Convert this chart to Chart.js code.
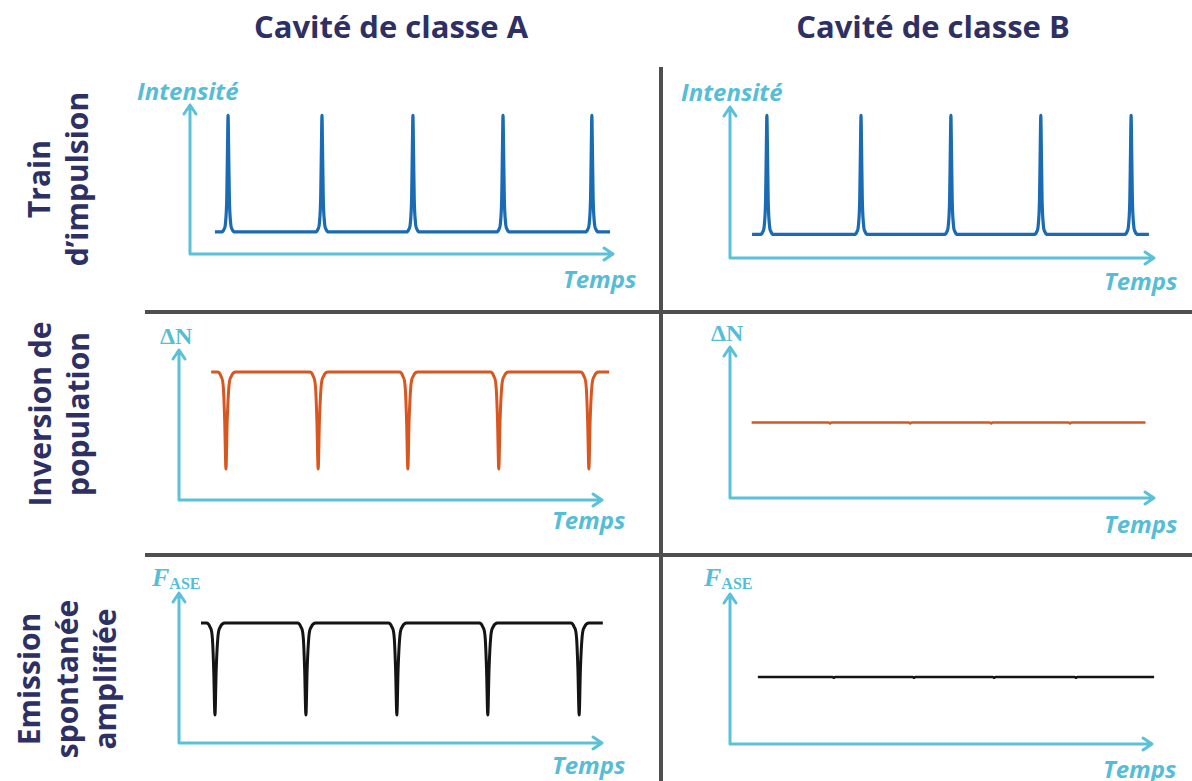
<!DOCTYPE html>
<html>
<head>
<meta charset="utf-8">
<script src="https://cdn.jsdelivr.net/npm/chart.js@4.4.1/dist/chart.umd.min.js"></script>
<style>
  html, body { margin: 0; padding: 0; background: #fff; }
  body { position: relative; width: 1192px; height: 781px; overflow: hidden; }
  canvas { position: absolute; }
  .title { position: absolute; top: 6px; width: 440px; text-align: center; color: #2e3064;
           font: 700 31px 'Open Sans', sans-serif; line-height: 40px; white-space: nowrap; }
  .row { position: absolute; color: #2e3064; font: 700 30px 'Open Sans', sans-serif; line-height: 38px;
         text-align: center; white-space: nowrap; transform: translate(-50%, -50%) rotate(-90deg); }
  .lbl { position: absolute; color: #56bdd6; font: italic 700 24px 'Open Sans', sans-serif;
         line-height: 24px; white-space: nowrap; }
  .sym { font-family: 'Liberation Serif', serif; font-style: normal; font-size: 24px; }
  .sym i { font-size: 26px; }
  .sym sub { font-size: 16px; font-style: normal; vertical-align: -3px; }
  .rule { position: absolute; background: #4f4f4f; }
</style>
</head>
<body>
<div class="title" style="left:171px">Cavité de classe A</div>
<div class="title" style="left:713px">Cavité de classe B</div>

<div class="row" style="left:58px; top:179px">Train<br>d’impulsion</div>
<div class="row" style="left:59px; top:414px">Inversion de<br>population</div>
<div class="row" style="left:67px; top:679px">Emission<br>spontanée<br>amplifiée</div>

<div class="rule" style="left:659px; top:67px; width:4px; height:714px"></div>
<div class="rule" style="left:145px; top:310px; width:1047px; height:4px"></div>
<div class="rule" style="left:145px; top:553px; width:1047px; height:4px"></div>

<div class="lbl" style="left:137px; top:79px">Intensité</div>
<div class="lbl" style="left:563px; top:267px">Temps</div>
<div class="lbl" style="left:681px; top:80px">Intensité</div>
<div class="lbl" style="left:1104px; top:269px">Temps</div>

<div class="lbl sym" style="left:160px; top:324px">ΔN</div>
<div class="lbl" style="left:552px; top:508px">Temps</div>
<div class="lbl sym" style="left:711px; top:321px">ΔN</div>
<div class="lbl" style="left:1104px; top:512px">Temps</div>

<div class="lbl sym" style="left:152px; top:566px"><i>F</i><sub>ASE</sub></div>
<div class="lbl" style="left:552px; top:753px">Temps</div>
<div class="lbl sym" style="left:704px; top:566px"><i>F</i><sub>ASE</sub></div>
<div class="lbl" style="left:1103px; top:757px">Temps</div>

<canvas id="a1"></canvas>
<canvas id="b1"></canvas>
<canvas id="a2"></canvas>
<canvas id="b2"></canvas>
<canvas id="a3"></canvas>
<canvas id="b3"></canvas>

<script>
// shape of one pulse / one dip (time offset, fraction of height)
const pulseOffsets = [-1.6, -1.0, -0.6, -0.3, -0.12, 0, 0.12, 0.3, 0.6, 1.0, 1.6];
const pulseShape   = [0, 0.02, 0.08, 0.3, 0.75, 1, 0.75, 0.3, 0.08, 0.02, 0];
const dipOffsets   = [-2.0, -1.2, -0.6, -0.3, 0, 0.3, 0.7, 1.3, 2.3];
const dipShape     = [0, 0.04, 0.17, 0.5, 1, 0.5, 0.15, 0.04, 0];
const notchOffsets = [-0.3, 0, 0.3];
const notchShape   = [0, 1, 0];

// class A cavity
const pulseTimesA = [9.0, 31.2, 52.7, 74.0, 95.0];
const dipTimesA2  = [11.1, 32.9, 54.1, 75.6, 96.9];
const dipTimesA3  = [8.5, 30.0, 51.5, 73.0, 94.6];
// class B cavity
const pulseTimesB = [8.7, 30.9, 52.1, 73.3, 94.6];
const notchTimesB2 = [23.6, 42.5, 61.6, 80.2];
const notchTimesB3 = [24.6, 43.6, 62.6, 82.0];

// levels: [start time, end time, baseline, extreme]
const levelA1 = [5.9, 99.3, 14.8, 93];
const levelB1 = [5.2, 98.8, 15.6, 94.4];
const levelA2 = [7.6, 101.7, 85.3, 20.7];
const levelB2 = [5.1, 98.0, 50, 49.3];
const levelA3 = [5.2, 100.2, 80, 18.7];
const levelB3 = [6.6, 100.5, 44.7, 44.1];

function trace(level, times, offsets, shape) {
  const [t0, t1, base, ext] = level;
  const pts = [{ x: t0, y: base }];
  times.forEach(c => offsets.forEach((o, i) => pts.push({ x: c + o, y: base + (ext - base) * shape[i] })));
  pts.push({ x: t1, y: base });
  return pts;
}

const axisColor = '#5bc1d8';
const arrowAxes = {
  id: 'arrowAxes',
  beforeDatasetsDraw(chart) {
    const { ctx, scales } = chart;
    const x0 = scales.x.getPixelForValue(0), x1 = scales.x.getPixelForValue(100);
    const y0 = scales.y.getPixelForValue(0), y1 = scales.y.getPixelForValue(100);
    ctx.save();
    ctx.strokeStyle = axisColor;
    ctx.lineWidth = 3;
    ctx.lineCap = 'round';
    ctx.lineJoin = 'round';
    ctx.beginPath();
    ctx.moveTo(x0, y1); ctx.lineTo(x0, y0); ctx.lineTo(x1, y0);
    ctx.moveTo(x0 - 6, y1 + 9); ctx.lineTo(x0, y1); ctx.lineTo(x0 + 6, y1 + 9);
    ctx.moveTo(x1 - 9, y0 - 6); ctx.lineTo(x1, y0); ctx.lineTo(x1 - 9, y0 + 6);
    ctx.stroke();
    ctx.restore();
  }
};

// panel box: [axis x, arrow top y, arrow right x, axis y]
function panel(id, box, data, color, width) {
  const pad = { left: 12, top: 12, right: 14, bottom: 12 };
  const cv = document.getElementById(id);
  const [ax, ty, rx, ay] = box;
  cv.width = rx - ax + pad.left + pad.right;
  cv.height = ay - ty + pad.top + pad.bottom;
  cv.style.left = (ax - pad.left) + 'px';
  cv.style.top = (ty - pad.top) + 'px';
  new Chart(cv, {
    type: 'line',
    data: {
      datasets: [{
        data: data,
        borderColor: color,
        borderWidth: width,
        borderJoinStyle: 'round',
        cubicInterpolationMode: 'monotone',
        pointRadius: 0,
        clip: false
      }]
    },
    options: {
      responsive: false,
      animation: false,
      devicePixelRatio: 1,
      layout: { padding: pad },
      plugins: { legend: { display: false }, tooltip: { enabled: false } },
      scales: {
        x: { type: 'linear', min: 0, max: 100, display: false },
        y: { min: 0, max: 100, display: false }
      }
    },
    plugins: [arrowAxes]
  });
}

panel('a1', [190, 105, 613, 254], trace(levelA1, pulseTimesA, pulseOffsets, pulseShape), '#1a6ab4', 3.2);
panel('b1', [730, 107, 1154, 258], trace(levelB1, pulseTimesB, pulseOffsets, pulseShape), '#1a6ab4', 3.2);
panel('a2', [179, 350, 602, 500], trace(levelA2, dipTimesA2, dipOffsets, dipShape), '#d8561f', 3);
panel('b2', [730, 347, 1154, 498], trace(levelB2, notchTimesB2, notchOffsets, notchShape), '#d8561f', 2.5);
panel('a3', [179, 593, 602, 743], trace(levelA3, dipTimesA3, dipOffsets, dipShape), '#141414', 3);
panel('b3', [730, 594, 1152, 744], trace(levelB3, notchTimesB3, notchOffsets, notchShape), '#141414', 2.5);
</script>
</body>
</html>
